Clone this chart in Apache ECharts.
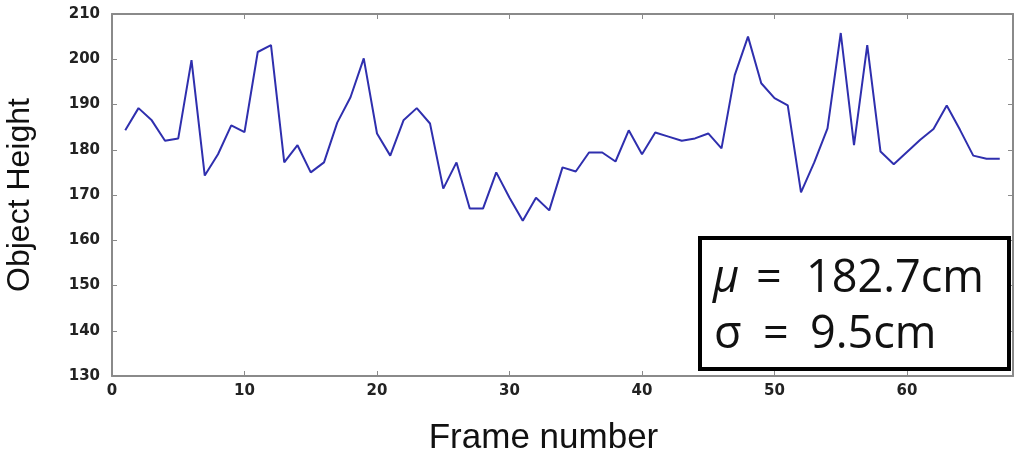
<!DOCTYPE html>
<html>
<head>
<meta charset="utf-8">
<script src="https://cdn.jsdelivr.net/npm/echarts@6/dist/echarts.min.js"></script>
<style>
html,body{margin:0;padding:0;background:#fff;}
#chart{width:1024px;height:455px;}
</style>
</head>
<body>
<div id="chart"></div>
<script>
const frames = [1,2,3,4,5,6,7,8,9,10,11,12,13,14,15,16,17,18,19,20,21,22,23,24,25,26,27,28,29,30,31,32,33,34,35,36,37,38,39,40,41,42,43,44,45,46,47,48,49,50,51,52,53,54,55,56,57,58,59,60,61,62,63,64,65,66,67];
const heights = [184.3,189.2,186.5,182,182.5,199.8,174.3,179,185.4,183.9,201.6,203.1,177.2,181,175,177.2,186,191.6,200.2,183.6,178.7,186.5,189.2,185.8,171.4,177.2,167,167,175,169.4,164.3,169.4,166.6,176.1,175.2,179.4,179.4,177.4,184.3,179,183.8,182.9,182,182.5,183.6,180.3,196.5,205,194.7,191.4,189.8,170.6,177.2,184.7,205.8,181,203.1,179.6,176.8,179.5,182.2,184.6,189.8,184.4,178.7,178,178];
const xTitle = 'Frame number';
const yTitle = 'Object Height';
const statSymbols = ['\u03bc', '\u03c3'];
const statValues = ['182.7cm', '9.5cm'];

const chart = echarts.init(document.getElementById('chart'));
const labelStyle = {color:'#222', fontFamily:'DejaVu Sans, Verdana, sans-serif', fontWeight:'bold', fontSize:15};
const axisLineStyle = {lineStyle:{color:'#8a8a8a', width:2}};
const tickStyle = {inside:true, length:5, lineStyle:{color:'#8a8a8a', width:1}};
const statFont = {fontFamily:'Open Sans, Noto Sans, sans-serif', fontSize:45, fill:'#111', verticalAlign:'middle', align:'left'};
chart.setOption({
  animation:false,
  grid:{left:112, right:11, top:14, bottom:79, outerBoundsMode:'none', containLabel:false},
  xAxis:[{
    type:'value', min:0, max:68, interval:10,
    axisLine:{show:true, onZero:false, ...axisLineStyle},
    axisTick:tickStyle,
    splitLine:{show:false},
    axisLabel:{...labelStyle, margin:8, showMaxLabel:false},
    name:xTitle, nameLocation:'middle', nameGap:45,
    nameTextStyle:{fontFamily:'Liberation Sans, Arial, sans-serif', fontSize:35, color:'#111', padding:[0,38,0,0]}
  },{
    type:'value', min:0, max:68, interval:10, position:'top',
    axisLine:{show:true, onZero:false, ...axisLineStyle},
    axisTick:tickStyle, axisLabel:{show:false}, splitLine:{show:false}
  }],
  yAxis:[{
    type:'value', min:130, max:210, interval:10,
    axisLine:{show:true, onZero:false, ...axisLineStyle},
    axisTick:tickStyle,
    splitLine:{show:false},
    axisLabel:{...labelStyle, margin:12},
    name:yTitle, nameLocation:'middle', nameGap:76,
    nameTextStyle:{fontFamily:'Liberation Sans, Arial, sans-serif', fontSize:32, color:'#111'}
  },{
    type:'value', min:130, max:210, interval:10, position:'right',
    axisLine:{show:true, onZero:false, ...axisLineStyle},
    axisTick:tickStyle, axisLabel:{show:false}, splitLine:{show:false}
  }],
  series:[{
    type:'line',
    data:frames.map((f,i)=>[f,heights[i]]),
    showSymbol:false,
    lineStyle:{color:'#2f2fae', width:2},
    z:3
  }],
  graphic:[{
    type:'rect',
    shape:{x:700, y:238, width:309, height:131},
    style:{fill:'#fff', stroke:'#000', lineWidth:4},
    z:10
  },
  {type:'text', x:713, y:279, style:{...statFont, text:statSymbols[0], fontStyle:'italic'}, z:11},
  {type:'text', x:756, y:279, style:{...statFont, text:'='}, z:11},
  {type:'text', x:806, y:279, style:{...statFont, text:statValues[0]}, z:11},
  {type:'text', x:714, y:335, style:{...statFont, text:statSymbols[1]}, z:11},
  {type:'text', x:763, y:335, style:{...statFont, text:'='}, z:11},
  {type:'text', x:810, y:335, style:{...statFont, text:statValues[1]}, z:11}
  ]
});
</script>
</body>
</html>
